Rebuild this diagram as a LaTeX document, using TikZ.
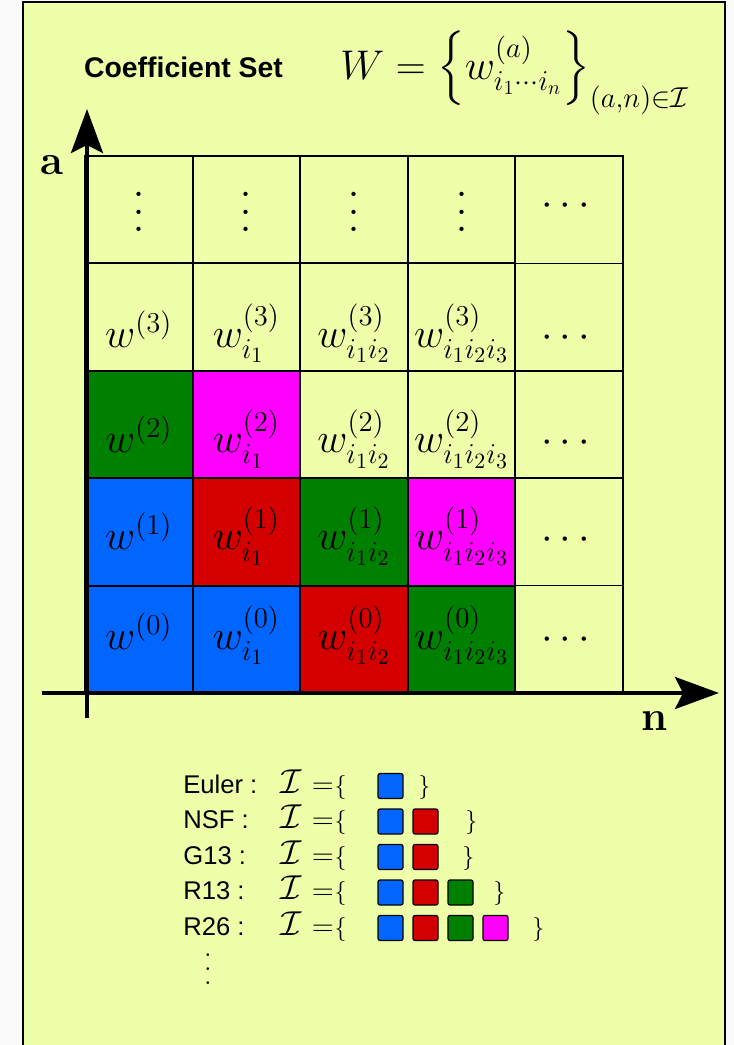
\documentclass[tikz,border=0pt]{standalone}
\usepackage{xcolor}
\usepackage{tikz}
\usepackage{amsmath}
\usepackage{fontspec}
\setsansfont{Liberation Sans}
\usetikzlibrary{arrows.meta, positioning, backgrounds}
\definecolor{cblue}{RGB}{0,102,255}
\definecolor{cred}{RGB}{212,0,0}
\definecolor{cgreen}{RGB}{0,128,0}
\definecolor{cmag}{RGB}{255,0,255}
\definecolor{cyel}{RGB}{238,255,170}
\definecolor{outer}{RGB}{250,250,250}
\newcommand{\tallvdots}[1]{\vbox{\baselineskip=#1\lineskiplimit=0pt\hbox{.}\hbox{.}\hbox{.}}}
\newcommand{\setopen}{{\fontsize{19}{20}\selectfont$\mathcal{I}$}\hspace{5pt}{\fontsize{15}{18}\selectfont$=$}\hspace{0.5pt}{\fontsize{13}{15}\selectfont$\{$}}

\begin{document}
\begin{tikzpicture}[
  x=0.5pt, y=-0.5pt,
  cell/.style={rectangle, draw, line width=1pt, outer sep=0pt, inner sep=0pt, minimum width=53.8pt, minimum height=53.7pt, font=\fontsize{21}{25}\selectfont},
  axis/.style={-{Stealth[length=22pt, width=16pt, inset=4pt]}, line width=1.8pt},
  swatch/.style={rectangle, draw, line width=0.6pt, rounded corners=1pt, minimum size=12.5pt, inner sep=0pt},
  legend/.style={anchor=base west, inner sep=0pt, font=\sffamily\fontsize{12.8}{15}\selectfont},
]
\useasboundingbox (0,0) rectangle (734,1045);

% Panel
\begin{scope}[on background layer]
  \fill[outer] (0,0) rectangle (734,1045);
  \draw[line width=1pt, fill=cyel] (23,2) rectangle (725,1070);
\end{scope}

% Title
\node[anchor=base, inner sep=0pt, font=\sffamily\bfseries\fontsize{14.2}{17}\selectfont] (title) at (183.5,77) {Coefficient Set};
\node[anchor=base west, inner sep=0pt, font=\fontsize{19.2}{22}\selectfont] (wset) at (340,79) {$W = \left\{ w^{(a)}_{i_1\cdots i_n} \right\}_{(a,n)\in\mathcal{I}}$};

% Coefficient grid
\foreach \r/\th in {0/16pt, 1/24pt, 2/34pt, 3/36pt} {
  \node[cell, text height=\th, text depth=6pt] (w0\r) at (138.8, {639.3-107.4*\r}) {$w^{(\r)}$};
  \node[cell, text height=\th, text depth=6pt, right=0pt of w0\r] (w1\r) {$w^{(\r)}_{i_1}$};
  \node[cell, text height=\th, text depth=6pt, right=0pt of w1\r] (w2\r) {$w^{(\r)}_{i_1i_2}$};
  \node[cell, text height=\th, text depth=6pt, right=0pt of w2\r] (w3\r) {$w^{(\r)}_{i_1i_2i_3}$};
  \node[cell, text height=\th, text depth=6pt, line width=0.8pt, right=0pt of w3\r] (w4\r) {$\cdots$};
}
\node[cell, font=\fontsize{26}{26}\selectfont, text height=22pt, above=0pt of w03] (v0) {\tallvdots{8.75pt}};
\node[cell, font=\fontsize{26}{26}\selectfont, text height=22pt, right=0pt of v0] (v1) {\tallvdots{8.75pt}};
\node[cell, font=\fontsize{26}{26}\selectfont, text height=22pt, right=0pt of v1] (v2) {\tallvdots{8.75pt}};
\node[cell, font=\fontsize{26}{26}\selectfont, text height=22pt, right=0pt of v2] (v3) {\tallvdots{8.75pt}};
\node[cell, line width=0.8pt, text height=6pt, right=0pt of v3] (v4) {$\cdots$};

% Coloured cells
\begin{scope}[on background layer]
  \foreach \n/\fc in {w00/cblue, w10/cblue, w20/cred, w30/cgreen, w01/cblue, w11/cred, w21/cgreen, w31/cmag, w02/cgreen, w12/cmag}
    \fill[\fc] (\n.south west) rectangle (\n.north east);
\end{scope}

% Axes
\coordinate (yfoot) at (87,718);
\coordinate (ytip) at (87,109);
\coordinate (xfoot) at (42,693);
\coordinate (xtip) at (719,693);
\draw[axis] (yfoot) -- (ytip);
\draw[axis] (xfoot) -- (xtip);
\node[font=\bfseries\fontsize{21}{25}\selectfont] (alab) at (52,165) {a};
\node[font=\bfseries\fontsize{21}{25}\selectfont] (nlab) at (655,721) {n};

% Schemes
\foreach \i/\name/\nsq/\closex in {0/Euler :/1/418, 1/NSF :/2/465, 2/G13 :/2/462, 3/R13 :/3/493, 4/R26 :/4/532} {
  \node[legend] (lab\i) at (183, {793+35.5*\i}) {\name};
  \node[legend] (set\i) at (280, {793+35.5*\i}) {\setopen};
  \foreach \k/\fc in {1/cblue, 2/cred, 3/cgreen, 4/cmag} {
    \ifnum\k>\nsq\relax\else
      \node[swatch, fill=\fc] (sq\i\k) at ({390.5+35*(\k-1)}, {786+35.5*\i}) {};
    \fi
  }
  \node[legend, font=\fontsize{13}{15}\selectfont] (close\i) at (\closex, {793+35.5*\i}) {$\}$};
}
\node[inner sep=0pt, font=\fontsize{14}{15}\selectfont] (more) at (208,969) {\tallvdots{7pt}};

\end{tikzpicture}
\end{document}
